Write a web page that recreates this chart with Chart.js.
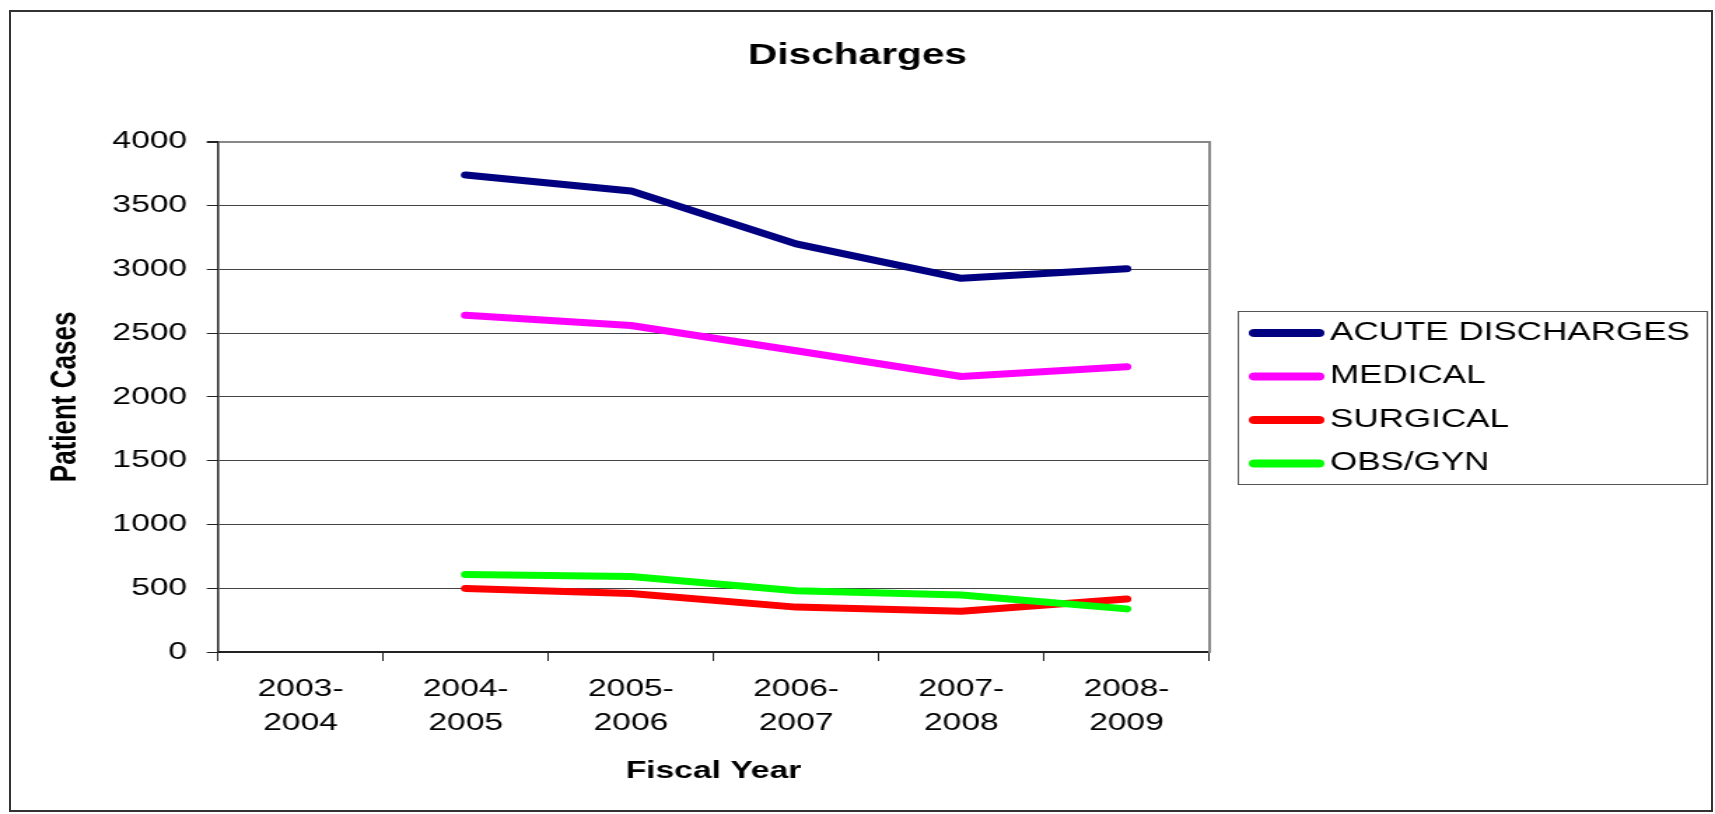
<!DOCTYPE html>
<html>
<head>
<meta charset="utf-8">
<title>Discharges</title>
<script src="https://cdn.jsdelivr.net/npm/chart.js@4.4.1/dist/chart.umd.min.js"></script>
<style>
  html, body { margin: 0; padding: 0; background: #fff; }
  #wrap { position: relative; width: 1715px; height: 814px; overflow: hidden; }
  /* the original picture is stretched sideways, so the canvas is too */
  #chart { position: absolute; left: 0; top: 0; width: 1715px; height: 814px; }
  #frame { position: absolute; left: 9px; top: 10px; width: 1700px; height: 798px;
           border: 2px solid #333; pointer-events: none; }
</style>
</head>
<body>
<div id="wrap">
  <canvas id="chart" width="1225" height="814" style="width:1715px;height:814px"></canvas>
  <div id="frame"></div>
</div>
<script>
// Data
const fiscalYears = [
    ['2003-', '2004'],
    ['2004-', '2005'],
    ['2005-', '2006'],
    ['2006-', '2007'],
    ['2007-', '2008'],
    ['2008-', '2009']
];
const acuteDischarges = [null, 3740, 3615, 3200, 2930, 3005];
const medical = [null, 2640, 2560, 2362, 2160, 2236];
const surgical = [null, 498, 458, 352, 320, 415];
const obsGyn = [null, 607, 592, 480, 447, 338];

const seriesNames = ['ACUTE DISCHARGES', 'MEDICAL', 'SURGICAL', 'OBS/GYN'];
const seriesColors = ['#000080', '#FF00FF', '#FF0000', '#00FF00'];
const yTicks = { min: 0, max: 4000, step: 500 };

const FONT = '"Liberation Sans", Arial, sans-serif';

// Legend drawn as a framed box to the right of the plot, like the Excel one
const boxLegend = {
    id: 'boxLegend',
    afterDraw(chart) {
        const ctx = chart.ctx;
        ctx.save();
        ctx.strokeStyle = '#555';
        ctx.lineWidth = 1;
        ctx.strokeRect(884.5, 311.5, 335, 173);
        ctx.font = '25px ' + FONT;
        ctx.textBaseline = 'middle';
        ctx.textAlign = 'left';
        chart.data.datasets.forEach((ds, i) => {
            const y = 333 + i * 43.5;
            ctx.strokeStyle = ds.borderColor;
            ctx.lineWidth = 8;
            ctx.lineCap = 'round';
            ctx.beginPath();
            ctx.moveTo(896, y);
            ctx.lineTo(942, y);
            ctx.stroke();
            ctx.fillStyle = '#000';
            ctx.fillText(ds.label, 950, y);
        });
        ctx.restore();
    }
};

const datasets = [acuteDischarges, medical, surgical, obsGyn].map((values, i) => ({
    label: seriesNames[i],
    data: values,
    borderColor: seriesColors[i],
    backgroundColor: seriesColors[i],
    borderWidth: 7,
    borderCapStyle: 'round',
    borderJoinStyle: 'round',
    pointRadius: 0,
    tension: 0,
    order: 4 - i
}));

const dischargeChart = new Chart('chart', {
    type: 'line',
    data: { labels: fiscalYears, datasets: datasets },
    options: {
        responsive: false,
        animation: false,
        devicePixelRatio: 1,
        layout: { padding: 0 },
        plugins: {
            legend: { display: false },
            tooltip: { enabled: false },
            title: {
                display: true,
                text: 'Discharges',
                color: '#000',
                font: { family: FONT, size: 29, weight: 'bold' },
                padding: { top: 39, bottom: 68 }
            }
        },
        scales: {
            x: {
                offset: true,
                grid: {
                    offset: true,
                    drawOnChartArea: false,
                    drawTicks: true,
                    tickLength: 9,
                    tickColor: '#222',
                    lineWidth: 1
                },
                border: { display: true, color: '#222', width: 2 },
                ticks: {
                    color: '#000',
                    padding: 12,
                    maxRotation: 0,
                    autoSkip: false,
                    font: { family: FONT, size: 24, lineHeight: 1.4 }
                },
                title: {
                    display: true,
                    text: 'Fiscal Year',
                    color: '#000',
                    font: { family: FONT, size: 24, weight: 'bold' },
                    padding: { top: 0, bottom: 28 }
                },
                afterFit: (scale) => { scale.height = 162; }
            },
            y: {
                min: yTicks.min,
                max: yTicks.max,
                grid: {
                    color: (c) => c.tick && c.tick.value === yTicks.max ? '#888' : '#444',
                    lineWidth: (c) => c.tick && c.tick.value === yTicks.max ? 2 : 1,
                    tickLength: 8,
                    tickColor: '#222'
                },
                border: { display: true, color: '#222', width: 1.5 },
                ticks: {
                    stepSize: yTicks.step,
                    color: '#000',
                    padding: 14,
                    font: { family: FONT, size: 24 },
                    callback: (value) => String(value)
                },
                title: {
                    display: true,
                    text: 'Patient Cases',
                    color: '#000',
                    font: { family: FONT, size: 26, weight: 'bold' },
                    padding: { top: 31, bottom: 0 }
                },
                afterFit: (scale) => { scale.width = 155.7; }
            },
            // empty right axis: gives the grey right edge of the plot and leaves room for the legend
            yRight: {
                type: 'linear',
                position: 'right',
                grid: { display: false },
                ticks: { display: false },
                border: { display: true, color: '#888', width: 2 },
                afterFit: (scale) => { scale.width = 361.4; }
            }
        }
    },
    plugins: [boxLegend]
});
</script>
</body>
</html>
